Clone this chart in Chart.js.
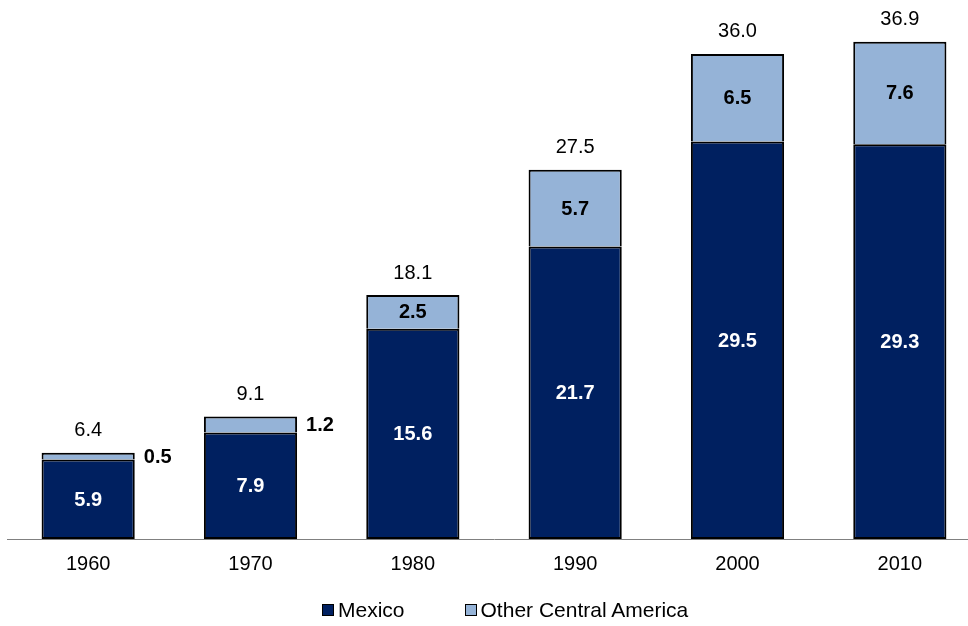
<!DOCTYPE html>
<html>
<head>
<meta charset="utf-8">
<script src="https://cdn.jsdelivr.net/npm/chart.js@4.4.1/dist/chart.umd.min.js"></script>
<style>
html,body{margin:0;padding:0;background:#fff;overflow:hidden;}
#wrap{width:981px;height:626px;position:relative;}
#legend{position:absolute;top:598px;left:322px;display:flex;align-items:center;font-family:'Liberation Sans',Arial,sans-serif;font-size:21px;color:#000;white-space:nowrap;}
#legend .item{display:flex;align-items:center;}
#legend .box{width:10px;height:10px;border:1px solid #000;margin-right:4px;}
</style>
</head>
<body>
<div id="wrap"><canvas id="c" width="981" height="626"></canvas>
<div id="legend"></div></div>
<script>
const categories = ["1960","1970","1980","1990","2000","2010"];
const mexico = [5.9, 7.9, 15.6, 21.7, 29.5, 29.3];
const otherCA = [0.5, 1.2, 2.5, 5.7, 6.5, 7.6];
const totals = [6.4, 9.1, 18.1, 27.5, 36.0, 36.9];
const seriesNames = ["Mexico", "Other Central America"];
const seriesColors = ["#002060", "#95B3D7"];

const FONT = "'Liberation Sans', Arial, sans-serif";

const labelPlugin = {
  id: 'barLabels',
  afterDatasetsDraw(chart) {
    const ctx = chart.ctx;
    const y = chart.scales.y;
    ctx.save();
    ctx.textBaseline = 'middle';
    const m0 = chart.getDatasetMeta(0);
    const m1 = chart.getDatasetMeta(1);
    categories.forEach((c, i) => {
      const b0 = m0.data[i], b1 = m1.data[i];
      const half = b0.width / 2;
      ctx.font = "bold 20px " + FONT;
      ctx.textAlign = 'center';
      ctx.fillStyle = '#ffffff';
      const yM = (y.getPixelForValue(0) + y.getPixelForValue(mexico[i])) / 2;
      ctx.fillText(mexico[i].toFixed(1), b0.x, yM + 1);
      const yO = (y.getPixelForValue(mexico[i]) + y.getPixelForValue(mexico[i] + otherCA[i])) / 2;
      ctx.fillStyle = '#000000';
      if (otherCA[i] < 2) {
        ctx.textAlign = 'left';
        ctx.fillText(otherCA[i].toFixed(1), b1.x + half + 9, yO + 1);
      } else {
        ctx.fillText(otherCA[i].toFixed(1), b1.x, yO + 1);
      }
      ctx.font = "20px " + FONT;
      ctx.textAlign = 'center';
      ctx.fillText(totals[i].toFixed(1), b1.x, y.getPixelForValue(mexico[i] + otherCA[i]) - 22);
    });
    ctx.restore();
  }
};

const chart = new Chart(document.getElementById('c'), {
  type: 'bar',
  data: {
    labels: categories,
    datasets: [
      { label: seriesNames[0], data: mexico, backgroundColor: seriesColors[0], borderColor: '#000000', borderWidth: 2, borderSkipped: false },
      { label: seriesNames[1], data: otherCA, backgroundColor: seriesColors[1], borderColor: '#000000', borderWidth: 2, borderSkipped: 'bottom' }
    ]
  },
  options: {
    responsive: false,
    animation: false,
    devicePixelRatio: 1,
    layout: { padding: { left: 7, right: 0, top: 0, bottom: 37 } },
    datasets: { bar: { categoryPercentage: 1.0, barPercentage: 0.574 } },
    scales: {
      x: {
        stacked: true,
        grid: { display: true, drawOnChartArea: false, drawTicks: false },
        border: { display: true, color: '#808080', width: 1 },
        ticks: { color: '#000', font: { family: FONT, size: 20 }, padding: 13 }
      },
      y: {
        stacked: true,
        display: false,
        min: 0, max: 40
      }
    },
    plugins: {
      legend: { display: false },
      tooltip: { enabled: false }
    }
  },
  plugins: [labelPlugin]
});

const legendEl = document.getElementById('legend');
chart.data.datasets.forEach((d, i) => {
  const it = document.createElement('div');
  it.className = 'item';
  if (i > 0) it.style.marginLeft = '60px';
  const b = document.createElement('span');
  b.className = 'box';
  b.style.background = d.backgroundColor;
  const t = document.createElement('span');
  t.textContent = d.label;
  it.appendChild(b); it.appendChild(t);
  legendEl.appendChild(it);
});
</script>
</body>
</html>
